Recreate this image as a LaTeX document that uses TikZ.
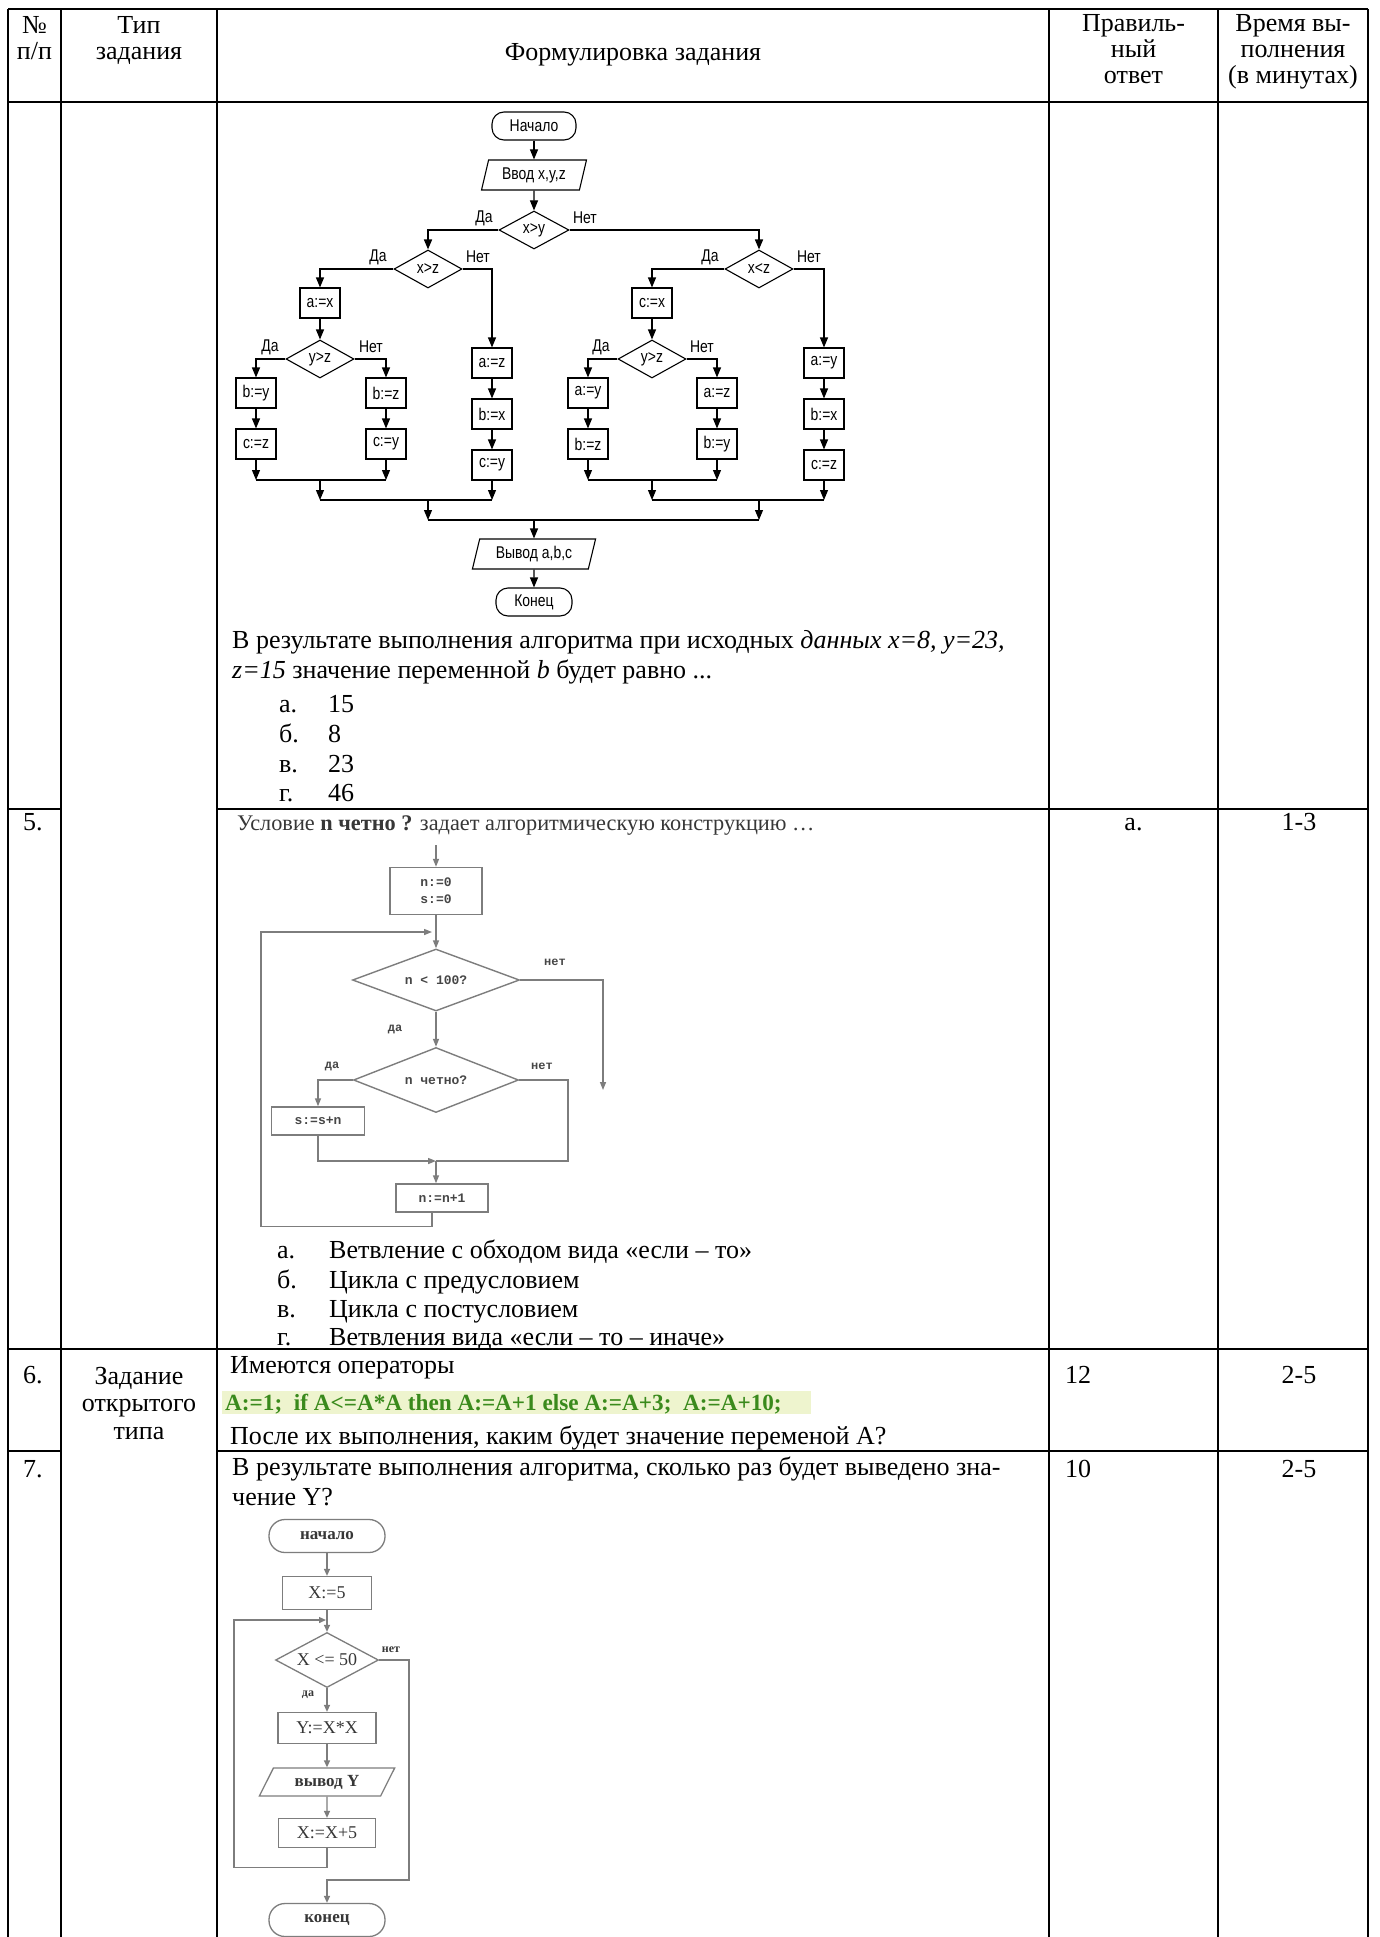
\documentclass[tikz,border=0pt]{standalone}
\usepackage{fontspec}
\setmainfont{Liberation Serif}
\newfontfamily\fcsans[FakeStretch=0.82]{Liberation Sans}
\newfontfamily\fcmono{Liberation Mono}
\usetikzlibrary{shapes.geometric,arrows.meta,calc}
\definecolor{codegreen}{RGB}{58,138,28}
\definecolor{codebg}{RGB}{238,244,206}
\definecolor{gline}{RGB}{125,125,125}
\definecolor{gtext}{RGB}{70,70,70}
\definecolor{qtext}{RGB}{55,55,55}
\newcommand{\bfsz}{\fontsize{26}{30}\selectfont}
\begin{document}
\begin{tikzpicture}[x=1pt,y=-1pt,
  grid/.style={line width=1.4pt},
  body/.style={anchor=base west, inner sep=0pt, font=\bfsz},
  cbody/.style={anchor=base, inner sep=0pt, font=\bfsz},
  fa/.style={draw, line width=1.1pt, inner sep=0pt, font=\fcsans\fontsize{17}{17}\selectfont},
  fbox/.style={fa, rectangle, minimum width=40pt, minimum height=30pt},
  fdia/.style={fa, diamond, shape aspect=1.8, minimum width=68pt, minimum height=38pt},
  fterm/.style={fa, rectangle, rounded corners=12pt, minimum height=28pt},
  fio/.style={fa, trapezium, trapezium left angle=72, trapezium right angle=108, trapezium stretches=true, minimum height=30pt},
  flab/.style={inner sep=0pt, font=\fcsans\fontsize{17}{17}\selectfont},
  fl/.style={line width=1.1pt},
  farr/.style={fl, -{Triangle[length=10pt,width=8pt]}},
  ga/.style={draw=gline, line width=1.4pt, inner sep=0pt, text=gtext, font=\fcmono\bfseries\fontsize{13}{17}\selectfont},
  gbox/.style={ga, rectangle},
  gdia/.style={ga, diamond, shape aspect=2.7},
  glab/.style={inner sep=0pt, text=gtext, font=\fcmono\bfseries\fontsize{12}{12}\selectfont},
  gl/.style={draw=gline, line width=1.4pt},
  garr/.style={gl, -{Triangle[length=8pt,width=6pt]}},
  ha/.style={draw=gline, line width=1.3pt, inner sep=0pt, text=qtext, font=\fontsize{18}{18}\selectfont},
  hbox/.style={ha, rectangle, minimum height=31pt},
  hterm/.style={ha, rectangle, rounded corners=16pt, minimum width=116pt, minimum height=33pt, font=\bfseries\fontsize{17}{17}\selectfont},
  hdia/.style={ha, diamond, shape aspect=1.9, minimum width=103pt, minimum height=55pt},
  hio/.style={ha, trapezium, trapezium left angle=59, trapezium right angle=121, trapezium stretches=true, minimum width=136pt, minimum height=28pt},
  hlab/.style={inner sep=0pt, text=qtext, font=\bfseries\fontsize{12}{12}\selectfont},
  hl/.style={draw=gline, line width=1.3pt},
  harr/.style={hl, -{Triangle[length=7pt,width=6pt]}},
]
\fill[white] (0,0) rectangle (1379,1937);
\useasboundingbox (0,0) rectangle (1379,1937);

% ---------------- table grid
\draw[grid] (8,9) -- (1368,9);
\draw[grid] (8,102) -- (1368,102);
\foreach \xx in {8,61,217,1049,1218,1368} \draw[grid] (\xx,9) -- (\xx,1937);
\draw[grid] (8,809) -- (61,809);
\draw[grid] (217,809) -- (1368,809);
\draw[grid] (8,1349) -- (1368,1349);
\draw[grid] (8,1451) -- (61,1451);
\draw[grid] (217,1451) -- (1368,1451);

% ---------------- header
\node[cbody] (h11) at (34.5,34) {№};
\node[cbody] (h12) at (34.5,60) {п/п};
\node[cbody] (h21) at (139,34) {Тип};
\node[cbody] (h22) at (139,60) {задания};
\node[cbody] (h31) at (633,61) {Формулировка задания};
\node[cbody] (h41) at (1133.5,32) {Правиль-};
\node[cbody] (h42) at (1133.5,58) {ный};
\node[cbody] (h43) at (1133.5,84) {ответ};
\node[cbody] (h51) at (1293,32) {Время вы-};
\node[cbody] (h52) at (1293,58) {полнения};
\node[cbody] (h53) at (1293,84) {(в минутах)};

% ---------------- flowchart 1
\node[fterm, minimum width=84pt] (s1) at (534,126) {Начало};
\node[fio, minimum width=105pt] (in1) at (534,175) {Ввод x,y,z};
\node[fdia, minimum width=70pt] (d1) at (534,230) {x>y};
\node[fdia] (d2) at (428,269) {x>z};
\node[fdia] (d3) at (759,269) {x<z};
\node[fbox] (ax) at (320,303) {a:=x};
\node[fdia] (d4) at (320,359) {y>z};
\node[fbox] (b1) at (256,393) {b:=y};
\node[fbox] (c1) at (256,444) {c:=z};
\node[fbox] (b2) at (386,393) {b:=z};
\node[fbox] (c2) at (386,444) {c:=y};
\node[fbox] (a3) at (492,363) {a:=z};
\node[fbox] (b3) at (492,414) {b:=x};
\node[fbox] (c3) at (492,465) {c:=y};
\node[fbox] (cx) at (652,303) {c:=x};
\node[fdia] (d5) at (652,359) {y>z};
\node[fbox] (a5) at (588,393) {a:=y};
\node[fbox] (b5) at (588,444) {b:=z};
\node[fbox] (a6) at (717,393) {a:=z};
\node[fbox] (b6) at (717,444) {b:=y};
\node[fbox] (a7) at (824,363) {a:=y};
\node[fbox] (b7) at (824,414) {b:=x};
\node[fbox] (c7) at (824,465) {c:=z};
\node[fio, minimum width=124pt] (out1) at (534,554) {Вывод a,b,c};
\node[fterm, minimum width=76pt] (e1) at (534,602) {Конец};

\draw[farr] (s1) -- (in1);
\draw[farr] (in1) -- (d1);
\draw[farr, line width=1.6pt] (d1.west) -| (d2.north);
\draw[farr, line width=1.6pt] (d1.east) -| (d3.north);
\draw[farr] (d2.west) -| (ax.north);
\draw[farr] (ax) -- (d4);
\draw[farr] (d4.west) -| (b1.north);
\draw[farr] (b1) -- (c1);
\draw[farr] (d4.east) -| (b2.north);
\draw[farr] (b2) -- (c2);
\draw[farr] (d2.east) -| (a3.north);
\draw[farr] (a3) -- (b3);
\draw[farr] (b3) -- (c3);
\draw[farr] (d3.west) -| (cx.north);
\draw[farr] (cx) -- (d5);
\draw[farr] (d5.west) -| (a5.north);
\draw[farr] (a5) -- (b5);
\draw[farr] (d5.east) -| (a6.north);
\draw[farr] (a6) -- (b6);
\draw[farr] (d3.east) -| (a7.north);
\draw[farr] (a7) -- (b7);
\draw[farr] (b7) -- (c7);

\coordinate (m1) at (256,480); \coordinate (m2) at (386,480);
\coordinate (m3) at (320,480); \coordinate (m4) at (320,500);
\coordinate (m5) at (492,500); \coordinate (m6) at (428,500);
\coordinate (m7) at (428,520); \coordinate (m8) at (759,520);
\coordinate (n1) at (588,480); \coordinate (n2) at (717,480);
\coordinate (n3) at (652,480); \coordinate (n4) at (652,500);
\coordinate (n5) at (824,500); \coordinate (n6) at (759,500);
\coordinate (mm) at (534,520);
\draw[farr] (c1) -- (m1);
\draw[farr] (c2) -- (m2);
\draw[fl, line width=1.6pt] (m1) -- (m2);
\draw[farr] (m3) -- (m4);
\draw[farr] (c3) -- (m5);
\draw[fl, line width=1.6pt] (m4) -- (m5);
\draw[farr] (m6) -- (m7);
\draw[fl, line width=1.6pt] (m7) -- (m8);
\draw[farr] (b5) -- (n1);
\draw[farr] (b6) -- (n2);
\draw[fl, line width=1.6pt] (n1) -- (n2);
\draw[farr] (n3) -- (n4);
\draw[farr] (c7) -- (n5);
\draw[fl, line width=1.6pt] (n4) -- (n5);
\draw[farr] (n6) -- (m8);
\draw[farr] (mm) -- (out1);
\draw[farr] (out1) -- (e1);

\node[flab] (l1) at (484,218) {Да};
\node[flab] (l2) at (585,218) {Нет};
\node[flab] (l3) at (378,257) {Да};
\node[flab] (l4) at (478,257) {Нет};
\node[flab] (l5) at (710,257) {Да};
\node[flab] (l6) at (809,257) {Нет};
\node[flab] (l7) at (270,347) {Да};
\node[flab] (l8) at (371,347) {Нет};
\node[flab] (l9) at (601,347) {Да};
\node[flab] (l10) at (702,347) {Нет};

% ---------------- row 1 text
\node[body] (t1) at (232,648) {В результате выполнения алгоритма при исходных \textit{данных x=8, y=23,}};
\node[body] (t2) at (232,678) {\textit{z=15} значение переменной \textit{b} будет равно ...};
\node[body] (ia1) at (279,712) {а.}; \node[body] (iv1) at (328,712) {15};
\node[body] (ia2) at (279,742) {б.}; \node[body] (iv2) at (328,742) {8};
\node[body] (ia3) at (279,772) {в.}; \node[body] (iv3) at (328,772) {23};
\node[body] (ia4) at (279,801) {г.}; \node[body] (iv4) at (328,801) {46};

% ---------------- row 5
\node[body] (r5n) at (23,830) {5.};
\node[cbody] (r5a) at (1133.5,830) {а.};
\node[cbody] (r5t) at (1299,830) {1-3};
\node[body, font=\fontsize{22.3}{26}\selectfont, text=qtext] (q5) at (237,830) {Условие \textbf{n четно ?} задает алгоритмическую конструкцию …};

\coordinate (g0) at (436,845);
\node[gbox, minimum width=92pt, minimum height=47pt, align=center] (g1) at (436,891) {n:=0\\s:=0};
\node[gdia, minimum width=167pt, minimum height=62pt] (g2) at (436,980) {n < 100?};
\node[gdia, minimum width=165pt, minimum height=65pt] (g3) at (436,1080) {n четно?};
\node[gbox, minimum width=93pt, minimum height=28pt] (g4) at (318,1121) {s:=s+n};
\node[gbox, minimum width=92pt, minimum height=28pt] (g5) at (442,1198) {n:=n+1};
\coordinate (gj) at (436,1161);
\coordinate (gl1) at (432,932);
\draw[garr] (g0) -- (g1.north);
\draw[garr] (g1.south) -- (g2.north);
\draw[garr] ([xshift=-10pt]g5.south) -- ++(0,14) -| (261,932) -- (gl1);
\draw[garr] (g2.east) -- (603,980) -- (603,1090);
\draw[garr] (g2.south) -- (g3.north);
\draw[garr] (g3.west) -| (g4.north);
\draw[gl] (g3.east) -| (568,1161) -- (gj);
\draw[garr] (g4.south) |- (gj);
\draw[garr] (gj) -- (gj |- g5.north);
\node[glab] (gn1) at (555,962) {нет};
\node[glab] (gy1) at (395,1029) {да};
\node[glab] (gy2) at (332,1066) {да};
\node[glab] (gn2) at (542,1066) {нет};

\node[body] (ja1) at (277,1258) {а.}; \node[body] (jv1) at (329,1258) {Ветвление с обходом вида «если – то»};
\node[body] (ja2) at (277,1288) {б.}; \node[body] (jv2) at (329,1288) {Цикла с предусловием};
\node[body] (ja3) at (277,1317) {в.}; \node[body] (jv3) at (329,1317) {Цикла с постусловием};
\node[body] (ja4) at (277,1345) {г.}; \node[body] (jv4) at (329,1345) {Ветвления вида «если – то – иначе»};

% ---------------- row 6
\node[body] (r6n) at (23,1383) {6.};
\node[cbody] (k1) at (139,1384) {Задание};
\node[cbody] (k2) at (139,1411) {открытого};
\node[cbody] (k3) at (139,1439) {типа};
\node[body] (r6a) at (1065,1383) {12};
\node[cbody] (r6t) at (1299,1383) {2-5};
\node[body] (p1) at (230,1373) {Имеются операторы};
\fill[codebg] (222,1391) rectangle (811,1414);
\node[body, font=\bfseries\fontsize{23.2}{26}\selectfont, text=codegreen] (p2) at (225,1410) {A:=1;\ \ if A<=A*A then A:=A+1 else A:=A+3;\ \ A:=A+10;};
\node[body] (p3) at (230,1444) {После их выполнения, каким будет значение переменой А?};

% ---------------- row 7
\node[body] (r7n) at (23,1477) {7.};
\node[body] (r7a) at (1065,1477) {10};
\node[cbody] (r7t) at (1299,1477) {2-5};
\node[body] (u1) at (232,1475) {В результате выполнения алгоритма, сколько раз будет выведено зна-};
\node[body] (u2) at (232,1505) {чение Y?};

\node[hterm] (q1) at (327,1536) {начало};
\node[hbox, minimum width=89pt, minimum height=33pt] (q2) at (327,1593) {X:=5};
\node[hdia] (q3) at (327,1660) {X <= 50};
\node[hbox, minimum width=98pt] (q4) at (327,1728) {Y:=X*X};
\node[hio, font=\bfseries\fontsize{17}{17}\selectfont] (q5b) at (327,1782) {вывод Y};
\node[hbox, minimum width=97pt, minimum height=29pt] (q6) at (327,1833) {X:=X+5};
\node[hterm] (q7) at (327,1920) {конец};
\coordinate (hj) at (326,1620);
\draw[harr] (q1) -- (q2);
\draw[harr] (q2) -- (q3);
\draw[harr] (q6.south) -- ++(0,19) -| (234,1620) -- (hj);
\draw[harr] (q3) -- (q4);
\draw[harr] (q4) -- (q5b);
\draw[harr] (q5b) -- (q6);
\draw[harr] (q3.east) -| (409,1880) -| (q7.north);
\node[hlab] (hn) at (391,1650) {нет};
\node[hlab] (hy) at (308,1695) {да};
\end{tikzpicture}
\end{document}
